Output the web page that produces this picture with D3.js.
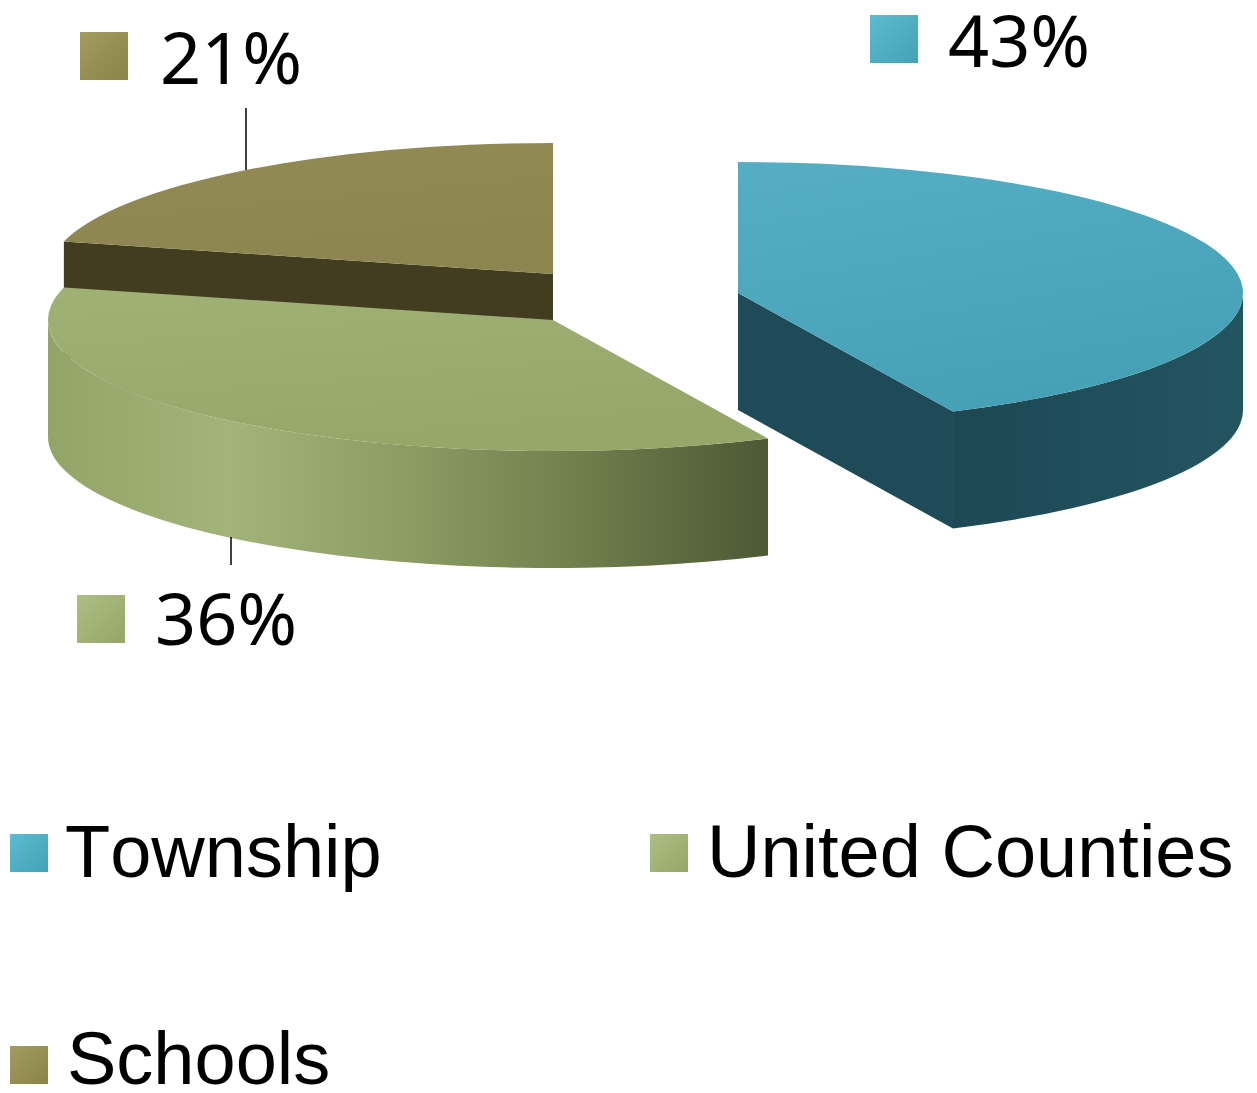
<!DOCTYPE html>
<html>
<head>
<meta charset="utf-8">
<script src="https://cdn.jsdelivr.net/npm/d3@7"></script>
<style>
  html, body { margin: 0; padding: 0; background: #ffffff; }
  svg { display: block; }
  .legend text { font-kerning: none; }
</style>
</head>
<body>
<svg id="chart" width="1257" height="1093"></svg>
<script>
// Share of the tax bill
const categories = ["Township", "United Counties", "Schools"];
const values = [43, 36, 21];

// Palette: top face, side wall, cut face, legend swatch stops
const palette = {
  "Township":        { top: ["#55aec4", "#46a1b6"], wall: ["#1d4854", "#235561"], cut: "#1f4a57", swatch: ["#5cbbd0", "#44a2b6"] },
  "United Counties": { top: ["#a0b176", "#96a76a"], wall: ["#93a468", "#a3b47a", "#8c9c63", "#6e7d4b", "#4c5935"], cut: "#4c5935", swatch: ["#aebf85", "#95a66a"] },
  "Schools":         { top: ["#928b55", "#8d854f"], wall: ["#433e21", "#433e21"], cut: "#423d20", swatch: ["#a29c60", "#8b8348"] }
};

// Pie geometry (ellipse radii, slab thickness, base centre, per-slice pull-out)
const geo = { cx: 553, cy: 320, rx: 505, ry: 131, depth: 117 };
const pull = { "Township": [185, -27], "United Counties": [0, 0], "Schools": [0, -46] };

const svg = d3.select("#chart");
const defs = svg.append("defs");

function linGrad(id, stops, x1, y1, x2, y2, units) {
  const g = defs.append("linearGradient").attr("id", id)
    .attr("x1", x1).attr("y1", y1).attr("x2", x2).attr("y2", y2);
  if (units) g.attr("gradientUnits", units);
  stops.forEach((c, i) => g.append("stop")
    .attr("offset", stops.length === 1 ? 0 : i / (stops.length - 1))
    .attr("stop-color", c));
  return `url(#${id})`;
}

const slices = d3.pie().sort(null).value(d => d)(values);

function pt(c, a, dz = 0) {
  return [c.cx + geo.rx * Math.sin(a), c.cy - geo.ry * Math.cos(a) + dz];
}
function fmt(p) { return p[0].toFixed(2) + "," + p[1].toFixed(2); }

function topPath(c, a0, a1) {
  const large = (a1 - a0) > Math.PI ? 1 : 0;
  return `M${c.cx},${c.cy}L${fmt(pt(c, a0))}A${geo.rx},${geo.ry} 0 ${large} 1 ${fmt(pt(c, a1))}Z`;
}
function wallPath(c, a0, a1) {
  const b0 = Math.max(a0, Math.PI / 2), b1 = Math.min(a1, Math.PI * 1.5);
  if (b1 <= b0) return null;
  const large = (b1 - b0) > Math.PI ? 1 : 0;
  const h = geo.depth;
  return `M${fmt(pt(c, b0))}A${geo.rx},${geo.ry} 0 ${large} 1 ${fmt(pt(c, b1))}` +
         `L${fmt(pt(c, b1, h))}A${geo.rx},${geo.ry} 0 ${large} 0 ${fmt(pt(c, b0, h))}Z`;
}
function cutPath(c, a) {
  const h = geo.depth;
  const p = pt(c, a), q = pt(c, a, h);
  return `M${c.cx},${c.cy}L${fmt(p)}L${fmt(q)}L${c.cx},${c.cy + h}Z`;
}

// Back slices first so nearer faces overlap them
const order = [2, 1, 0];
const pieG = svg.append("g").attr("class", "pie");

order.forEach(i => {
  const s = slices[i];
  const name = categories[i];
  const pal = palette[name];
  const c = { cx: geo.cx + pull[name][0], cy: geo.cy + pull[name][1] };
  const g = pieG.append("g").attr("class", "slice");
  const key = "s" + i;

  // Radial cut faces that turn toward the viewer
  [[s.startAngle, -1], [s.endAngle, 1]].forEach(([a, side]) => {
    const n = a + side * Math.PI / 2;
    if (Math.cos(n) < -0.01) {
      g.append("path").attr("d", cutPath(c, a)).attr("fill", pal.cut);
    }
  });

  // Outer rim
  const w = wallPath(c, s.startAngle, s.endAngle);
  if (w) {
    const b0 = Math.max(s.startAngle, Math.PI / 2), b1 = Math.min(s.endAngle, Math.PI * 1.5);
    const xa = pt(c, b1)[0], xb = pt(c, b0)[0];
    const fill = linGrad(key + "wall", pal.wall, Math.min(xa, xb), 0, Math.max(xa, xb), 0, "userSpaceOnUse");
    g.append("path").attr("d", w).attr("fill", fill);
  }

  // Top face
  const topFill = linGrad(key + "top", pal.top, "0", "0", "0.35", "1");
  g.append("path").attr("d", topPath(c, s.startAngle, s.endAngle)).attr("fill", topFill);
});

// Percentage labels with swatches and leader lines
const labelPos = {
  "Township":        { sx: 870, sy: 15,  tx: 948, ty: 67,  leader: null },
  "United Counties": { sx: 77,  sy: 595, tx: 155, ty: 645, leader: [231, 537, 231, 565] },
  "Schools":         { sx: 80,  sy: 32,  tx: 160, ty: 84,  leader: [246, 108, 246, 170] }
};
const fmtPct = v => d3.format("d")(v) + "%";

const labG = svg.append("g").attr("class", "labels");
categories.forEach((name, i) => {
  const lp = labelPos[name];
  const pal = palette[name];
  labG.append("rect").attr("x", lp.sx).attr("y", lp.sy).attr("width", 48).attr("height", 48)
    .attr("fill", linGrad("lab" + i, pal.swatch, "0", "0", "1", "1"));
  labG.append("text").attr("x", lp.tx).attr("y", lp.ty)
    .attr("font-family", "'Noto Sans', 'Open Sans', sans-serif")
    .attr("font-size", 72).attr("fill", "#000")
    .text(fmtPct(values[i]));
  if (lp.leader) {
    labG.append("line")
      .attr("x1", lp.leader[0]).attr("y1", lp.leader[1])
      .attr("x2", lp.leader[2]).attr("y2", lp.leader[3])
      .attr("stroke", "#000").attr("stroke-width", 1.5);
  }
});

// Legend
const legendPos = [[10, 834, 65, 877], [650, 834, 707, 877], [10, 1046, 67, 1084]];
const legG = svg.append("g").attr("class", "legend");
const items = legG.selectAll("g").data(categories).join("g");
items.append("rect")
  .attr("x", (d, i) => legendPos[i][0]).attr("y", (d, i) => legendPos[i][1])
  .attr("width", 38).attr("height", 38)
  .attr("fill", (d, i) => linGrad("leg" + i, palette[d].swatch, "0", "0", "1", "1"));
items.append("text")
  .attr("x", (d, i) => legendPos[i][2]).attr("y", (d, i) => legendPos[i][3])
  .attr("font-family", "'Liberation Sans', Arial, sans-serif")
  .attr("font-size", 74).attr("fill", "#000")
  .text(d => d);
</script>
</body>
</html>
